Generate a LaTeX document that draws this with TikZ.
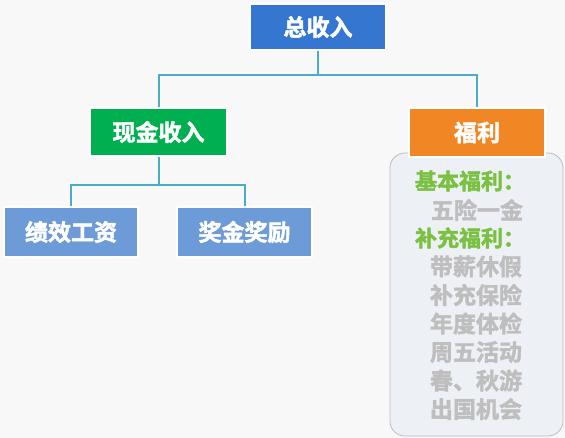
\documentclass[tikz,border=0pt]{standalone}
\usepackage{fontspec}
\usepackage{xcolor}
\usepackage{tikz}
\usetikzlibrary{positioning,calc}
\newfontfamily\cjk{Noto Sans CJK SC}[BoldFont={Noto Sans CJK SC Bold}, BoldFeatures={FakeBold=2}]

\definecolor{bgpage}{RGB}{248,248,248}
\definecolor{topblue}{RGB}{52,118,208}
\definecolor{cashgreen}{RGB}{0,176,80}
\definecolor{welforange}{RGB}{240,134,36}
\definecolor{subblue}{RGB}{108,155,216}
\definecolor{linkteal}{RGB}{75,172,198}
\definecolor{panelfill}{RGB}{237,240,245}
\definecolor{paneldraw}{RGB}{185,190,196}
\definecolor{headgreen}{RGB}{122,193,66}
\definecolor{itemgray}{RGB}{190,190,190}

\begin{document}
\begin{tikzpicture}[x=1pt, y=-1pt,
    box/.style={draw=white, line width=1.2pt, text=white, font=\cjk\bfseries\fontsize{23}{23}\selectfont, inner sep=0pt},
    link/.style={draw=linkteal, line width=2pt},
    head/.style={text=headgreen, font=\cjk\bfseries\fontsize{22}{22}\selectfont, inner sep=0pt},
    item/.style={text=itemgray, font=\cjk\bfseries\fontsize{23}{23}\selectfont, inner sep=0pt}]
  % Page
  \fill[bgpage] (0,0) rectangle (565,438);
  \useasboundingbox (0,0) rectangle (565,438);

  % Welfare panel
  \draw[fill=panelfill, draw=paneldraw, line width=0.8pt, rounded corners=15pt] (390,153) rectangle (563,436);

  % Boxes
  \node[box, fill=topblue, minimum width=135pt, minimum height=46pt] (total) at (318,27) {总收入};
  \node[box, fill=cashgreen, minimum width=137pt, minimum height=48pt] (cash) at (158.5,132) {现金收入};
  \node[box, fill=welforange, minimum width=136pt, minimum height=49pt] (welfare) at (477,132.5) {福利};
  \node[box, fill=subblue, minimum width=134pt, minimum height=50pt] (perf) at (71,232) {绩效工资};
  \node[box, fill=subblue, minimum width=135pt, minimum height=50pt] (bonus) at (244.5,232) {奖金奖励};

  % Connectors
  \coordinate (split1) at (318,75);
  \coordinate (split2) at (158.5,185);
  \draw[link] (total) -- (split1) -| (cash);
  \draw[link] (split1) -| (welfare);
  \draw[link] (cash) -- (split2) -| (perf);
  \draw[link] (split2) -| (bonus);

  % Panel text
  \node[head] (basic) at (470,181) {基本福利：};
  \node[item] (insure) at (477,210) {五险一金};
  \node[head] (extra) at (470,238) {补充福利：};
  \foreach \txt [count=\i] in {带薪休假,补充保险,年度体检,周五活动,春、秋游,出国机会}
    \node[item] (extra\i) at (476,238+28.5*\i) {\txt};
\end{tikzpicture}
\end{document}
